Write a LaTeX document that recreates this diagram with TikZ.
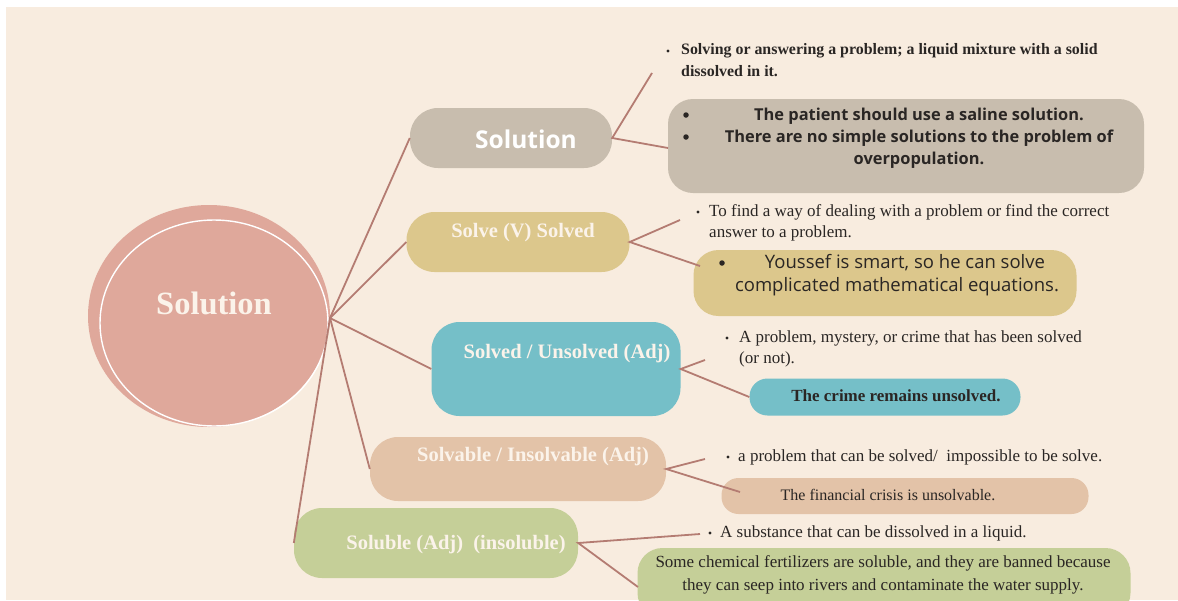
\documentclass[tikz,border=0pt]{standalone}
\usepackage{fontspec}
\setmainfont{Liberation Serif}
\newfontfamily\opensans{Open Sans}
\usetikzlibrary{shapes.geometric}

\definecolor{paper}{HTML}{F8ECDF}
\definecolor{corefill}{HTML}{DFA89B}
\definecolor{greyfill}{HTML}{C8BDAE}
\definecolor{sandfill}{HTML}{DCC78C}
\definecolor{tealfill}{HTML}{75BFC8}
\definecolor{peachfill}{HTML}{E3C3A8}
\definecolor{sagefill}{HTML}{C5CF98}
\definecolor{linkcol}{HTML}{B47C72}
\definecolor{titlecol}{HTML}{FBF3EA}
\definecolor{inkcol}{HTML}{2A2624}

\begin{document}
\begin{tikzpicture}[x=1pt,y=-1pt,
  link/.style={draw=linkcol, line width=1.8pt},
  catbox/.style={rectangle, rounded corners=#1, inner sep=0pt},
  catbox/.default=28pt,
  cattext/.style={font=\fontsize{20.5}{24}\selectfont\bfseries, text=titlecol, inner sep=0pt},
  deftext/.style={font=\fontsize{17}{21}\selectfont, text=inkcol, align=left, anchor=north west, inner sep=0pt},
  defdot/.style={circle, fill=inkcol, inner sep=0pt, minimum size=3.2pt},
  exdot/.style={circle, fill=inkcol, inner sep=0pt, minimum size=5.5pt},
  extext/.style={text=inkcol, align=center, inner sep=0pt},
]
\useasboundingbox (0,0) rectangle (1178,600);
\fill[white] (0,0) rectangle (1178,600);
\fill[paper] (6,7) rectangle (1178,600);

% central topic
\node[ellipse, fill=corefill, minimum width=242pt, minimum height=222pt, inner sep=0pt] (core) at (209,316) {};
\node[ellipse, draw=white, line width=1.4pt, minimum width=228pt, minimum height=206pt, inner sep=0pt] (ring) at (214,323) {};
\node[font=\fontsize{32.5}{36}\selectfont\bfseries, text=titlecol, inner sep=0pt] (coretitle) at (214,303) {Solution};
\coordinate (hub) at (330,318);

% category boxes
\node[catbox, fill=greyfill, minimum width=202pt, minimum height=60pt] (sol) at (511,138) {};
\node[font=\opensans\fontsize{24.5}{28}\selectfont\bfseries, text=white, inner sep=0pt] (soltitle) at (526,139) {Solution};

\node[catbox, fill=sandfill, minimum width=223pt, minimum height=60pt] (slv) at (518,242) {};
\node[cattext] (slvtitle) at (523,233) {Solve (V) Solved};

\node[catbox, fill=tealfill, minimum width=249pt, minimum height=94pt] (uns) at (556,369) {};
\node[cattext] (unstitle) at (567,354) {Solved / Unsolved (Adj)};

\node[catbox, fill=peachfill, minimum width=296pt, minimum height=64pt] (insv) at (518,469) {};
\node[cattext] (insvtitle) at (533,457) {Solvable / Insolvable (Adj)};

\node[catbox, fill=sagefill, minimum width=284pt, minimum height=70pt] (solu) at (436,543) {};
\node[cattext] (solutitle) at (456,545) {Soluble (Adj)\ \ (insoluble)};

% example boxes
\node[catbox=25pt, fill=greyfill, minimum width=476pt, minimum height=94pt] (ex1) at (906,146) {};
\node[exdot] (ex1a) at (686,115) {};
\node[exdot] (ex1b) at (686,137) {};
\node[extext, font=\opensans\fontsize{16.4}{22}\selectfont\bfseries] (ex1text) at (919,138)
  {The patient should use a saline solution.\\There are no simple solutions to the problem of\\overpopulation.};

\node[catbox=25pt, fill=sandfill, minimum width=383pt, minimum height=66pt] (ex2) at (885,283) {};
\node[exdot] (ex2a) at (722,263) {};
\node[extext, font=\opensans\fontsize{18.5}{23}\selectfont] (ex2text) at (897,275)
  {\hspace*{16pt}Youssef is smart, so he can solve\\complicated mathematical equations.};

\node[catbox=18pt, fill=tealfill, minimum width=271pt, minimum height=37pt] (ex3) at (885,397) {};
\node[extext, font=\fontsize{17}{20}\selectfont\bfseries] (ex3text) at (896,396) {The crime remains unsolved.};

\node[catbox=17pt, fill=peachfill, minimum width=367pt, minimum height=36pt] (ex4) at (905,496) {};
\node[extext, font=\fontsize{16}{19}\selectfont] (ex4text) at (888,495) {The financial crisis is unsolvable.};

\node[catbox=25pt, fill=sagefill, minimum width=493pt, minimum height=70pt] (ex5) at (884,583) {};
\node[extext, font=\fontsize{17}{23}\selectfont] (ex5text) at (883,575)
  {Some chemical fertilizers are soluble, and they are banned because\\they can seep into rivers and contaminate the water supply.};

% definitions
\node[defdot] (d1dot) at (668,51) {};
\node[deftext, font=\fontsize{15.9}{22}\selectfont\bfseries] (d1) at (681,43)
  {Solving or answering a problem; a liquid mixture with a solid\\dissolved in it.};
\node[defdot] (d2dot) at (698,212) {};
\node[deftext] (d2) at (709,204)
  {To find a way of dealing with a problem or find the correct\\answer to a problem.};
\node[defdot] (d3dot) at (727,338) {};
\node[deftext] (d3) at (739,330)
  {A problem, mystery, or crime that has been solved\\(or not).};
\node[defdot] (d4dot) at (728,457) {};
\node[deftext] (d4) at (738,449)
  {a problem that can be solved/\ \ impossible to be solve.};
\node[defdot] (d5dot) at (710,533) {};
\node[deftext] (d5) at (720,525)
  {A substance that can be dissolved in a liquid.};

% free ends of the branch lines
\coordinate (d1end) at (652,73);
\coordinate (ex1end) at (668,148);
\coordinate (d2end) at (680,220);
\coordinate (ex2end) at (700,266);
\coordinate (d3end) at (705,360);
\coordinate (d4end) at (705,459);
\coordinate (ex4end) at (740,492);
\coordinate (d5end) at (700,534);
\coordinate (ex5end) at (638,587);

% connectors from the centre
\draw[link] (hub) -- (sol.west);
\draw[link] (hub) -- (slv.west);
\draw[link] (hub) -- (uns.west);
\draw[link] (hub) -- (insv.west);
\draw[link] (hub) -- (solu.west);

% connectors to meanings and examples
\draw[link] (d1end) -- (sol.east) -- (ex1end);
\draw[link] (d2end) -- (slv.east) -- (ex2end);
\draw[link] (d3end) -- (uns.east) -- (ex3.west);
\draw[link] (d4end) -- (insv.east) -- (ex4end);
\draw[link] (d5end) -- (solu.east) -- (ex5end);
\end{tikzpicture}
\end{document}
